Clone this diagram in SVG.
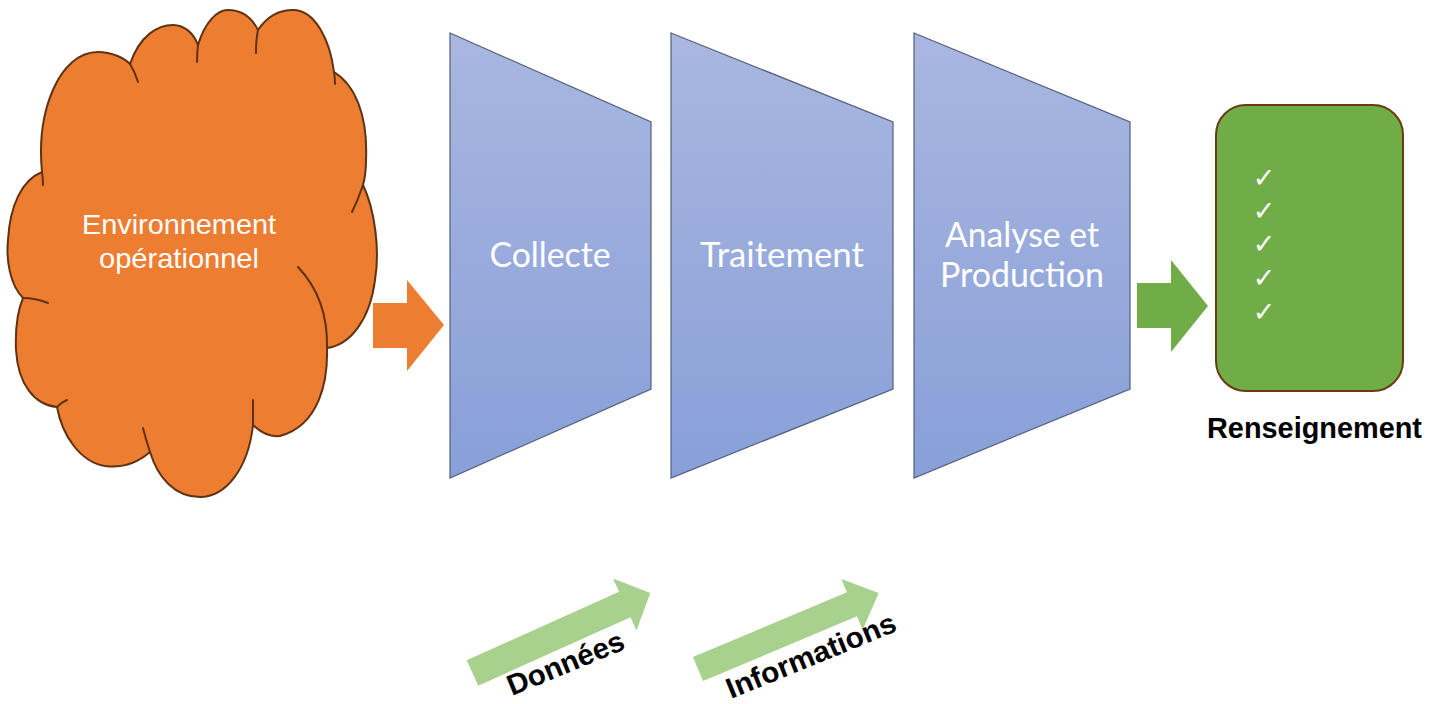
<svg xmlns="http://www.w3.org/2000/svg" width="1443" height="704" viewBox="0 0 1443 704">
<defs>
<linearGradient id="blueGrad" x1="0" y1="0" x2="0" y2="1">
<stop offset="0" stop-color="#A9B7E0"/>
<stop offset="1" stop-color="#889FD8"/>
</linearGradient>
<style>
.trap{fill:url(#blueGrad);stroke:#55607A;stroke-width:1.2}
.ttext{font-family:Lato,"Open Sans",sans-serif;font-size:34px;fill:#FFFFFF;text-anchor:middle}
.cloud{fill:#ED7D31;stroke:#5E3212;stroke-width:2;stroke-linejoin:round}
.hook{fill:none;stroke:#5E3212;stroke-width:2;stroke-linecap:round}
.ctext{font-family:"Liberation Sans",Arial,sans-serif;font-size:28px;fill:#FFFFFF;text-anchor:middle}
.check{font-family:"DejaVu Sans",sans-serif;font-size:27px;font-weight:bold;fill:#FFFFFF;text-anchor:middle}
.btext{font-family:"Liberation Sans",Arial,sans-serif;font-size:29px;font-weight:bold;fill:#000000}
.lg{fill:#A9D18E}
</style>
</defs>
<rect width="1443" height="704" fill="#FFFFFF"/>

<g id="environnement">
<path class="cloud" d="M42,172 C36,110 60,52 98,52 C112,52 124,58 130,64 C140,35 158,25 173,25 C185,25 194,34 198,45 C205,22 217,10 228,10 C242,10 252,18 258,30 C268,15 280,10 293,10 C315,10 330,40 334,72 C355,85 368,115 366,160 C366,170 365,178 363,185 C375,210 380,250 375,280 C370,320 350,345 327,348 C328,380 320,425 280,436 C270,437 260,432 253,425 C248,470 225,497 200,497 C175,497 158,478 150,452 C135,465 120,468 105,466 C80,462 62,435 57,407 C35,405 18,385 16,350 C15,325 18,310 23,298 C10,285 6,260 8,240 C10,205 22,180 42,172 Z"/>
<path class="hook" d="M130,64 Q135,72 138,82"/>
<path class="hook" d="M198,45 Q197,53 197,62"/>
<path class="hook" d="M258,30 Q256,40 256,53"/>
<path class="hook" d="M334,72 Q335,78 335,84"/>
<path class="hook" d="M363,185 Q358,200 352,212"/>
<path class="hook" d="M327,348 C328,310 315,285 298,267"/>
<path class="hook" d="M253,425 Q253,412 253,400"/>
<path class="hook" d="M150,452 Q146,440 143,428"/>
<path class="hook" d="M57,407 Q62,402 67,400"/>
<path class="hook" d="M23,298 Q35,298 48,303"/>
<path class="hook" d="M42,172 Q43,178 43,185"/>
<text class="ctext" x="179" y="234" textLength="194" lengthAdjust="spacingAndGlyphs">Environnement</text>
<text class="ctext" x="179" y="268" textLength="160" lengthAdjust="spacingAndGlyphs">opérationnel</text>
</g>

<g id="collecte">
<polygon class="trap" points="450,33 651,122 651,389 450,478"/>
<text class="ttext" x="550" y="267" textLength="121" lengthAdjust="spacingAndGlyphs">Collecte</text>
</g>

<g id="traitement">
<polygon class="trap" points="671,33 893,122 893,389 671,478"/>
<text class="ttext" x="782" y="267" textLength="164" lengthAdjust="spacingAndGlyphs">Traitement</text>
</g>

<g id="analyse">
<polygon class="trap" points="914,33 1130,122 1130,389 914,478"/>
<text class="ttext" x="1022" y="247" textLength="154" lengthAdjust="spacingAndGlyphs">Analyse et</text>
<text class="ttext" x="1022" y="287" textLength="164" lengthAdjust="spacingAndGlyphs">Production</text>
</g>

<g id="renseignement">
<rect x="1216" y="105" width="187" height="286" rx="30" ry="30" fill="#70AD47" stroke="#6A3A12" stroke-width="2"/>
<text class="check" x="1264" y="187">✓</text>
<text class="check" x="1264" y="220">✓</text>
<text class="check" x="1264" y="253">✓</text>
<text class="check" x="1264" y="287">✓</text>
<text class="check" x="1264" y="321">✓</text>
<text class="btext" x="1207" y="438" textLength="215" lengthAdjust="spacingAndGlyphs">Renseignement</text>
</g>

<g id="connectors">
<polygon fill="#ED7D31" points="373,303 407,303 407,280 444,325 407,371 407,348 373,348"/>
<polygon fill="#70AD47" points="1137,283 1171,283 1171,260 1208,306 1171,352 1171,328 1137,328"/>
<g id="donnees">
<polygon class="lg" transform="translate(472.5,673) rotate(-24.25)" points="0,-14 167,-14 167,-28.5 195,0 167,28.5 167,14 0,14"/>
<text class="btext" transform="translate(512,696) rotate(-22.5)" x="0" y="0" textLength="124" lengthAdjust="spacingAndGlyphs">Données</text>
</g>
<g id="informations">
<polygon class="lg" transform="translate(698,669) rotate(-22.78)" points="0,-13 167,-13 167,-27.5 196,0 167,27.5 167,13 0,13"/>
<text class="btext" transform="translate(731,699) rotate(-22.3)" x="0" y="0" textLength="181" lengthAdjust="spacingAndGlyphs">Informations</text>
</g>
</g>
</svg>
